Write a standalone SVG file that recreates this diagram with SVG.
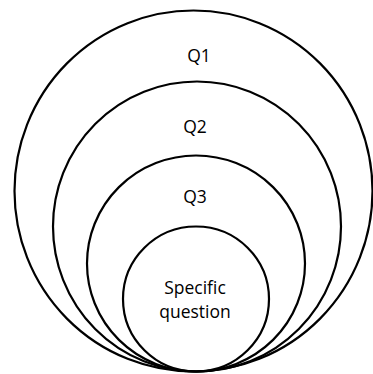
<svg xmlns="http://www.w3.org/2000/svg" width="373" height="374" viewBox="0 0 373 374">
<style>
.c{fill:none;stroke:#000;stroke-width:2.2}
.t{font-family:"Open Sans","Noto Sans",sans-serif;font-size:17.5px;fill:#000;text-anchor:middle}
</style>
<rect width="373" height="374" fill="#fff"/>
<g id="q1"><ellipse class="c" cx="193.5" cy="191" rx="179" ry="180.5"/><text class="t" x="199" y="62">Q1</text></g>
<g id="q2"><ellipse class="c" cx="197" cy="226.5" rx="144" ry="145"/><text class="t" x="195" y="133">Q2</text></g>
<g id="q3"><ellipse class="c" cx="196" cy="263.5" rx="109" ry="108"/><text class="t" x="195" y="203">Q3</text></g>
<g id="specific"><ellipse class="c" cx="196" cy="299" rx="73" ry="72.5"/><text class="t" x="195" y="294">Specific</text><text class="t" x="195" y="318">question</text></g>
<g id="connectors"/>
</svg>
